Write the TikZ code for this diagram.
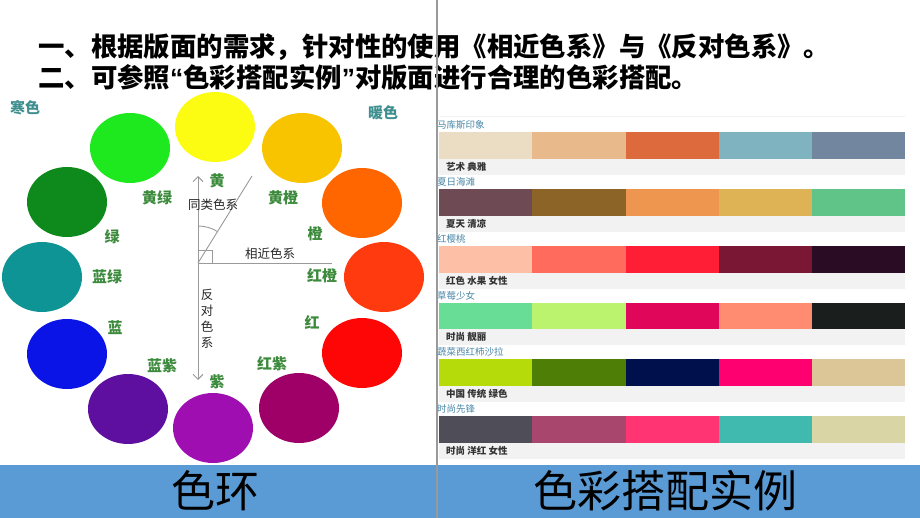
\documentclass[tikz,border=0pt]{standalone}
\usepackage{fontspec}
\setmainfont{Noto Sans CJK SC}
\newfontfamily\latin{Liberation Sans}
\usetikzlibrary{arrows.meta, shapes.geometric, positioning}

% 色环颜色
\definecolor{cyellow}{HTML}{FCFC12}
\definecolor{cygreen}{HTML}{1EE81E}
\definecolor{cgreen}{HTML}{0E8A1C}
\definecolor{cbgreen}{HTML}{0E9494}
\definecolor{cblue}{HTML}{0A14E6}
\definecolor{cbviolet}{HTML}{5E0FA0}
\definecolor{cviolet}{HTML}{9E0EB0}
\definecolor{crviolet}{HTML}{9E0068}
\definecolor{cred}{HTML}{FF0606}
\definecolor{crorange}{HTML}{FF3A0E}
\definecolor{corange}{HTML}{FF6600}
\definecolor{cyorange}{HTML}{F8C400}
% 配色实例
\definecolor{p1a}{HTML}{EBDDC3}\definecolor{p1b}{HTML}{E8B98A}\definecolor{p1c}{HTML}{DD6A3C}\definecolor{p1d}{HTML}{7FB3C0}\definecolor{p1e}{HTML}{7386A0}
\definecolor{p2a}{HTML}{6E4A55}\definecolor{p2b}{HTML}{8C6427}\definecolor{p2c}{HTML}{EE9550}\definecolor{p2d}{HTML}{DDB355}\definecolor{p2e}{HTML}{60C387}
\definecolor{p3a}{HTML}{FDBFA5}\definecolor{p3b}{HTML}{FF6B5C}\definecolor{p3c}{HTML}{FF1E35}\definecolor{p3d}{HTML}{7A1735}\definecolor{p3e}{HTML}{2A0D25}
\definecolor{p4a}{HTML}{67DD95}\definecolor{p4b}{HTML}{BBF26E}\definecolor{p4c}{HTML}{E0065A}\definecolor{p4d}{HTML}{FF8C70}\definecolor{p4e}{HTML}{1A1E1C}
\definecolor{p5a}{HTML}{B5DC0A}\definecolor{p5b}{HTML}{4E7E05}\definecolor{p5c}{HTML}{00104D}\definecolor{p5d}{HTML}{FF0070}\definecolor{p5e}{HTML}{DCC597}
\definecolor{p6a}{HTML}{4E4D58}\definecolor{p6b}{HTML}{A8466E}\definecolor{p6c}{HTML}{FF3573}\definecolor{p6d}{HTML}{40B9AE}\definecolor{p6e}{HTML}{DAD5A5}
\definecolor{barblue}{HTML}{5B9BD5}
\definecolor{huegreen}{HTML}{3C8A3C}
\definecolor{tempteal}{HTML}{3F8F8F}
\definecolor{linegray}{HTML}{9A9A9A}
\definecolor{titleblue}{HTML}{4A88A8}
\definecolor{bandgray}{HTML}{F2F2F2}

\begin{document}
\begin{tikzpicture}[x=1pt, y=-1pt,
  disc/.style={ellipse, minimum width=80pt, minimum height=70pt, inner sep=0pt},
  hue/.style={font=\fontsize{15}{15}\selectfont\bfseries, text=huegreen, inner sep=0pt},
  temp/.style={hue, text=tempteal},
  sysline/.style={draw=linegray, line width=0.9pt},
  systip/.style={sysline, {Straight Barb[length=5pt]}-{Straight Barb[length=5pt]}},
  syslabel/.style={font=\fontsize{12.5}{16}\selectfont, text=black!85, inner sep=0pt, align=center},
  swatch/.style={rectangle, minimum width=93.2pt, minimum height=27pt, inner sep=0pt, anchor=north west},
  ptitle/.style={anchor=west, font=\fontsize{9.5}{10}\selectfont, text=titleblue, inner sep=0pt},
  pnote/.style={anchor=west, font=\fontsize{9.5}{10}\selectfont\bfseries, text=black!80, inner sep=0pt},
  band/.style={fill=bandgray},
  headline/.style={anchor=west, font=\fontsize{26.4}{30}\selectfont\bfseries, inner sep=0pt},
  caption/.style={font=\fontsize{44}{48}\selectfont, text=black, inner sep=0pt}
]
\useasboundingbox[fill=white] (0,0) rectangle (920,518);

% 标题文字
\node[headline] (head1) at (38,47) {一、根据版面的需求，针对性的使用《相近色系》与《反对色系》。};
\node[headline] (head2) at (38,77) {二、可参照{\latin “}色彩搭配实例{\latin ”}对版面进行合理的色彩搭配。};

% 色环
\node[disc, fill=cyellow] (yellow) at (215,127) {};
\node[disc, fill=cygreen] (ygreen) at (130,148) {};
\node[disc, fill=cyorange] (yorange) at (302,148) {};
\node[disc, fill=cgreen] (green) at (67,202) {};
\node[disc, fill=corange] (orange) at (362,203) {};
\node[disc, fill=cbgreen] (bgreen) at (42,277) {};
\node[disc, fill=crorange] (rorange) at (384,277) {};
\node[disc, fill=cblue] (blue) at (67,354) {};
\node[disc, fill=cred] (red) at (362,353) {};
\node[disc, fill=cbviolet] (bviolet) at (128,409) {};
\node[disc, fill=crviolet] (rviolet) at (299,408) {};
\node[disc, fill=cviolet] (violet) at (213,428) {};

% 色名
\node[temp] (cold) at (25,108) {寒色};
\node[temp] (warm) at (383,113) {暖色};
\node[hue] (l-yellow) at (217,181) {黄};
\node[hue] (l-ygreen) at (157,198) {黄绿};
\node[hue] (l-yorange) at (283,198) {黄橙};
\node[hue] (l-green) at (112,237) {绿};
\node[hue] (l-orange) at (315,234) {橙};
\node[hue] (l-bgreen) at (107,277) {蓝绿};
\node[hue] (l-rorange) at (322,276) {红橙};
\node[hue] (l-blue) at (115,328) {蓝};
\node[hue] (l-red) at (312,323) {红};
\node[hue] (l-bviolet) at (162,366) {蓝紫};
\node[hue] (l-rviolet) at (272,364) {红紫};
\node[hue] (l-violet) at (217,382) {紫};

% 色系示意线
\coordinate (o) at (198,263);
\coordinate (vtop) at (198,176);
\coordinate (vbot) at (198,380);
\coordinate (hend) at (332,263);
\coordinate (dend) at (252,176);
\draw[systip] (vbot) -- (vtop);
\draw[sysline] (o) -- (hend);
\draw[sysline] (o) -- (dend);
\draw[sysline] (o) rectangle ++(14,-13);
\draw[sysline] (o) ++(0,-37) arc[start angle=-90, end angle=-58, radius=37];
\node[syslabel] (same) at (213,205) {同类色系};
\node[syslabel] (near) at (270,254) {相近色系};
\node[syslabel] (oppo) at (207,319) {反\\对\\色\\系};

% 配色实例
\draw[bandgray, line width=0.8pt] (440,116) -- (905,116);
\foreach \row/\top/\name/\note/\colors in {
    1/132/马库斯印象/艺术 典雅/{p1a,p1b,p1c,p1d,p1e},
    2/188.8/夏日海滩/夏天 清凉/{p2a,p2b,p2c,p2d,p2e},
    3/245.6/红樱桃/红色 水果 女性/{p3a,p3b,p3c,p3d,p3e},
    4/302.4/草莓少女/时尚 靓丽/{p4a,p4b,p4c,p4d,p4e},
    5/359.2/蔬菜西红柿沙拉/中国 传统 绿色/{p5a,p5b,p5c,p5d,p5e},
    6/416/时尚先锋/时尚 洋红 女性/{p6a,p6b,p6c,p6d,p6e}} {
  \node[ptitle] (t\row) at (437,{\top-7}) {\name};
  \foreach \col [count=\i from 0] in \colors
    \node[swatch, fill=\col] (s\row-\i) at ({439+93.2*\i},\top) {};
  \fill[band] (439,{\top+27}) rectangle (905,{\top+43});
  \node[pnote] (n\row) at (446,{\top+35}) {\note};
}

% 底部标题栏
\fill[barblue] (0,465) rectangle (920,518);
\node[caption] (wheel) at (215,491) {色环};
\node[caption] (cases) at (665,491) {色彩搭配实例};

% 分隔线
\coordinate (divtop) at (437,0);
\coordinate (divbot) at (437,518);
\draw[gray!80, line width=1.1pt] (divtop) -- (divbot);

\end{tikzpicture}
\end{document}
